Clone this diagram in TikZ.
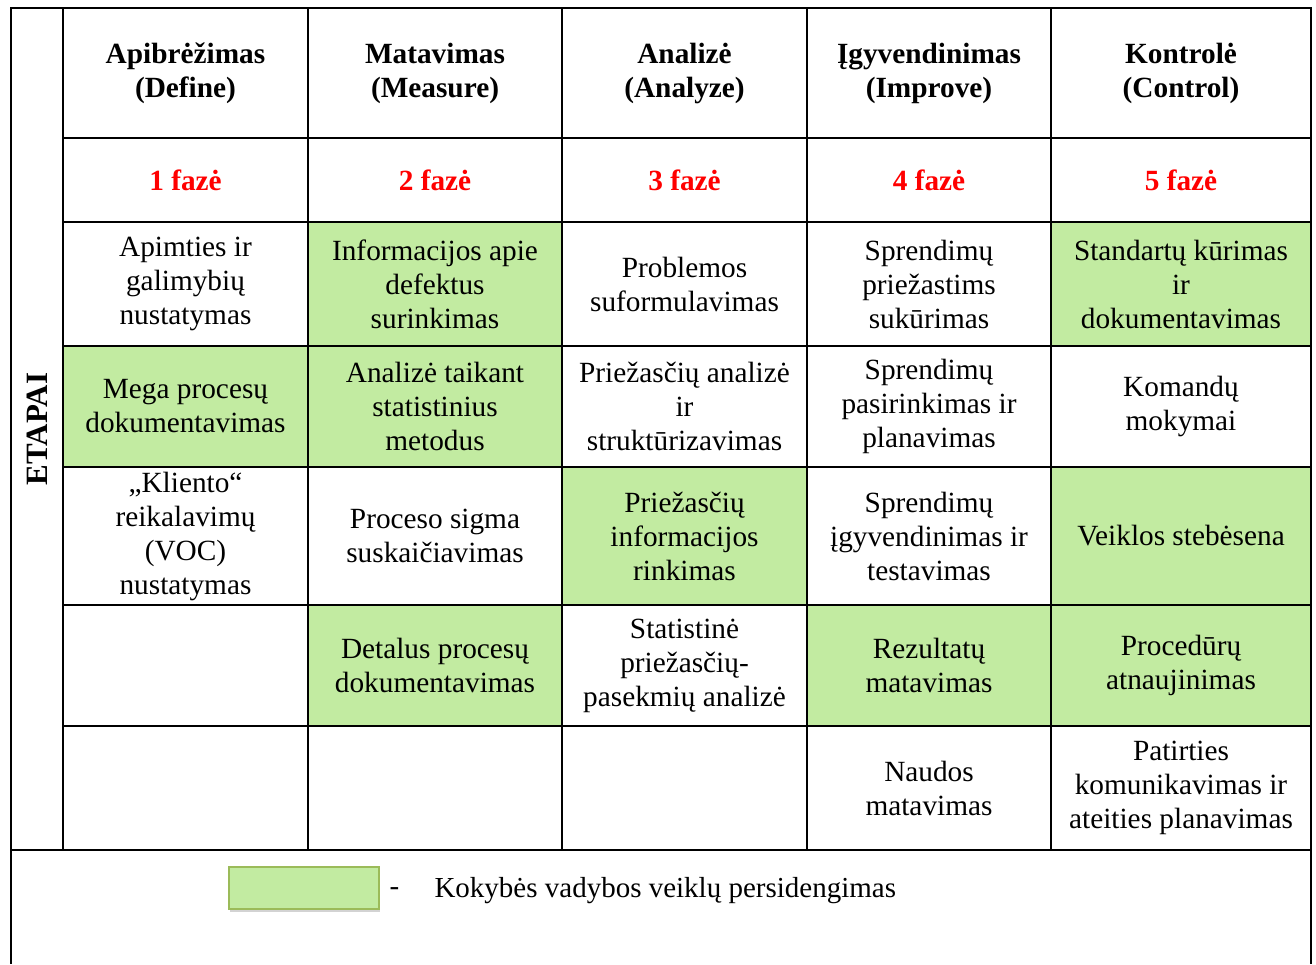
\documentclass[tikz,border=0pt]{standalone}
\usepackage{fontspec}
\setmainfont{Liberation Serif}
\usetikzlibrary{shadows}
\definecolor{overlap}{RGB}{194,235,161}
\definecolor{overlapline}{RGB}{155,187,89}
\definecolor{phasered}{RGB}{255,0,0}

\begin{document}
\begin{tikzpicture}[x=1pt, y=-1pt,
	cell/.style={draw, line width=2.5pt, inner sep=0pt, align=center,
		font=\fontsize{29.3}{34}\selectfont},
	greencell/.style={cell, fill=overlap},
	head/.style={cell, font=\fontsize{29.3}{34}\selectfont\bfseries},
	phase/.style={head, text=phasered},
	colA/.style={minimum width=245pt}, colB/.style={minimum width=254pt},
	colC/.style={minimum width=245pt}, colD/.style={minimum width=244pt},
	colE/.style={minimum width=260pt},
	rowH/.style={minimum height=130pt}, rowP/.style={minimum height=84pt},
	rowA/.style={minimum height=124pt}, rowB/.style={minimum height=121pt},
	rowC/.style={minimum height=138pt}, rowD/.style={minimum height=121pt},
	rowE/.style={minimum height=124pt}]
		%%%%% START %%%%%
		\useasboundingbox (0,0) rectangle (1316,964);
		
		% etapai column
		\node[cell, minimum width=52pt, minimum height=842pt] (etapai) at (37,429) {};
		\node[rotate=90, font=\fontsize{31}{34}\selectfont\bfseries] (etapaiLbl) at (etapai) {ETAPAI};
		
		% header
		\node[head, colA, rowH] (hDefine) at (185.5,73) {Apibrėžimas\\(Define)};
		\node[head, colB, rowH] (hMeasure) at (435,73) {Matavimas\\(Measure)};
		\node[head, colC, rowH] (hAnalyze) at (684.5,73) {Analizė\\(Analyze)};
		\node[head, colD, rowH] (hImprove) at (929,73) {Įgyvendinimas\\(Improve)};
		\node[head, colE, rowH] (hControl) at (1181,73) {Kontrolė\\(Control)};
		
		\node[phase, colA, rowP] (pDefine) at (185.5,180) {1 fazė};
		\node[phase, colB, rowP] (pMeasure) at (435,180) {2 fazė};
		\node[phase, colC, rowP] (pAnalyze) at (684.5,180) {3 fazė};
		\node[phase, colD, rowP] (pImprove) at (929,180) {4 fazė};
		\node[phase, colE, rowP] (pControl) at (1181,180) {5 fazė};
		
		% row 1
		\node[cell, colA, rowA] (aDefine) at (185.5,284) {Apimties ir\\galimybių\\nustatymas};
		\node[greencell, colB, rowA] (aMeasure) at (435,284) {Informacijos apie\\defektus\\surinkimas};
		\node[cell, colC, rowA] (aAnalyze) at (684.5,284) {Problemos\\suformulavimas};
		\node[cell, colD, rowA] (aImprove) at (929,284) {Sprendimų\\priežastims\\sukūrimas};
		\node[greencell, colE, rowA] (aControl) at (1181,284) {Standartų kūrimas\\ir\\dokumentavimas};
		
		% row 2
		\node[greencell, colA, rowB] (bDefine) at (185.5,406.5) {Mega procesų\\dokumentavimas};
		\node[greencell, colB, rowB] (bMeasure) at (435,406.5) {Analizė taikant\\statistinius\\metodus};
		\node[cell, colC, rowB] (bAnalyze) at (684.5,406.5) {Priežasčių analizė\\ir\\struktūrizavimas};
		\node[cell, colD, rowB] (bImprove) at (929,406.5) {Sprendimų\\pasirinkimas ir\\planavimas};
		\node[cell, colE, rowB] (bControl) at (1181,406.5) {Komandų\\mokymai};
		
		% row 3
		\node[cell, colA, rowC] (cDefine) at (185.5,536) {„Kliento“\\reikalavimų\\(VOC)\\nustatymas};
		\node[cell, colB, rowC] (cMeasure) at (435,536) {Proceso sigma\\suskaičiavimas};
		\node[greencell, colC, rowC] (cAnalyze) at (684.5,536) {Priežasčių\\informacijos\\rinkimas};
		\node[cell, colD, rowC] (cImprove) at (929,536) {Sprendimų\\įgyvendinimas ir\\testavimas};
		\node[greencell, colE, rowC] (cControl) at (1181,536) {Veiklos stebėsena};
		
		% row 4
		\node[cell, colA, rowD] (dDefine) at (185.5,665.5) {};
		\node[greencell, colB, rowD] (dMeasure) at (435,665.5) {Detalus procesų\\dokumentavimas};
		\node[cell, colC, rowD] (dAnalyze) at (684.5,665.5) {Statistinė\\priežasčių-\\pasekmių analizė};
		\node[greencell, colD, rowD] (dImprove) at (929,665.5) {Rezultatų\\matavimas};
		\node[greencell, colE, rowD] (dControl) at (1181,665.5) {Procedūrų\\atnaujinimas};
		
		% row 5
		\node[cell, colA, rowE] (eDefine) at (185.5,788) {};
		\node[cell, colB, rowE] (eMeasure) at (435,788) {};
		\node[cell, colC, rowE] (eAnalyze) at (684.5,788) {};
		\node[cell, colD, rowE] (eImprove) at (929,788) {Naudos\\matavimas};
		\node[cell, colE, rowE] (eControl) at (1181,788) {Patirties\\komunikavimas ir\\ateities planavimas};
		
		% legend
		\draw[line width=2.5pt] (11,850) -- (11,964);
		\draw[line width=2.5pt] (1311,850) -- (1311,964);
		\node[draw=overlapline, fill=overlap, line width=1.5pt, minimum width=150pt, minimum height=42pt,
			drop shadow={opacity=0.35, shadow xshift=1pt, shadow yshift=-3pt}] (legendBox) at (304,888) {};
		\node[font=\fontsize{29}{34}\selectfont, anchor=west] (legendDash) at (386,892) {-};
		\node[font=\fontsize{29}{34}\selectfont, anchor=west] (legendText) at (431,891) {Kokybės vadybos veiklų persidengimas};
		
		%%%%% END %%%%%
	\end{tikzpicture}
\end{document}
